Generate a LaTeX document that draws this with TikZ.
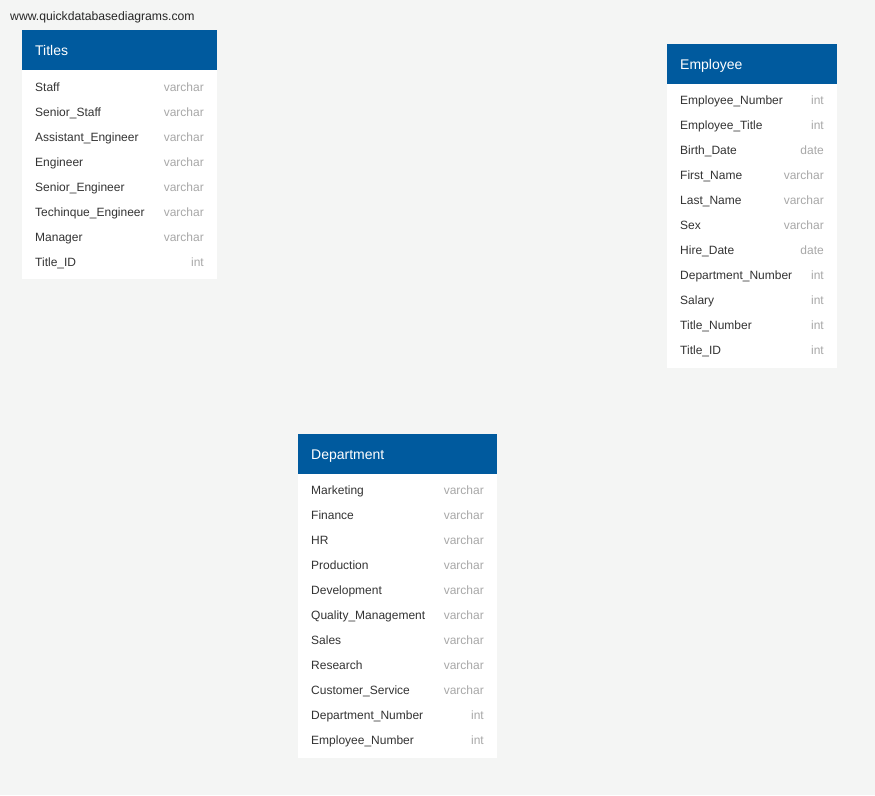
\documentclass[tikz,border=0pt]{standalone}
\usepackage{fontspec}
\setmainfont{Liberation Sans}
\definecolor{bg}{HTML}{F4F5F4}
\definecolor{hdr}{HTML}{005A9E}
\definecolor{nametxt}{HTML}{333333}
\definecolor{typetxt}{HTML}{A8A8A8}
\begin{document}
\begin{tikzpicture}[x=1pt,y=-1pt,
  hdrbox/.style={fill=hdr,draw=none},
  bodybox/.style={fill=white,draw=none},
  hdrtext/.style={anchor=base west,text=white,font=\fontsize{14}{16}\selectfont,inner sep=0pt},
  fieldname/.style={anchor=base west,text=nametxt,font=\fontsize{12}{14}\selectfont,inner sep=0pt},
  fieldtype/.style={anchor=base east,text=typetxt,font=\fontsize{12}{14}\selectfont,inner sep=0pt}]
\fill[bg] (0,0) rectangle (875,795);
\useasboundingbox (0,0) rectangle (875,795);
\node[anchor=base west,inner sep=0pt,text=black!85,font=\fontsize{12.2}{14}\selectfont] (wm) at (10,20) {www.quickdatabasediagrams.com};
% Titles
\fill[bodybox] (22,70) rectangle (217,279);
\fill[hdrbox] (22,30) rectangle (217,70);
\node[hdrtext] (titlesH) at (35,55) {Titles};
\foreach \n/\t [count=\i from 0] in {Staff/varchar,Senior\_Staff/varchar,Assistant\_Engineer/varchar,Engineer/varchar,Senior\_Engineer/varchar,Techinque\_Engineer/varchar,Manager/varchar,Title\_ID/int}{
  \node[fieldname] (tn\i) at (35,91.5+25*\i) {\n};
  \node[fieldtype] (tt\i) at (204,91.5+25*\i) {\t};
}
% Employee
\fill[bodybox] (667,84) rectangle (837,368);
\fill[hdrbox] (667,44) rectangle (837,84);
\node[hdrtext] (empH) at (680,69) {Employee};
\foreach \n/\t [count=\i from 0] in {Employee\_Number/int,Employee\_Title/int,Birth\_Date/date,First\_Name/varchar,Last\_Name/varchar,Sex/varchar,Hire\_Date/date,Department\_Number/int,Salary/int,Title\_Number/int,Title\_ID/int}{
  \node[fieldname] (en\i) at (680,104.5+25*\i) {\n};
  \node[fieldtype] (et\i) at (824,104.5+25*\i) {\t};
}
% Department
\fill[bodybox] (298,474) rectangle (497,758);
\fill[hdrbox] (298,434) rectangle (497,474);
\node[hdrtext] (depH) at (311,459) {Department};
\foreach \n/\t [count=\i from 0] in {Marketing/varchar,Finance/varchar,HR/varchar,Production/varchar,Development/varchar,Quality\_Management/varchar,Sales/varchar,Research/varchar,Customer\_Service/varchar,Department\_Number/int,Employee\_Number/int}{
  \node[fieldname] (dn\i) at (311,494.5+25*\i) {\n};
  \node[fieldtype] (dt\i) at (484,494.5+25*\i) {\t};
}
\end{tikzpicture}
\end{document}
